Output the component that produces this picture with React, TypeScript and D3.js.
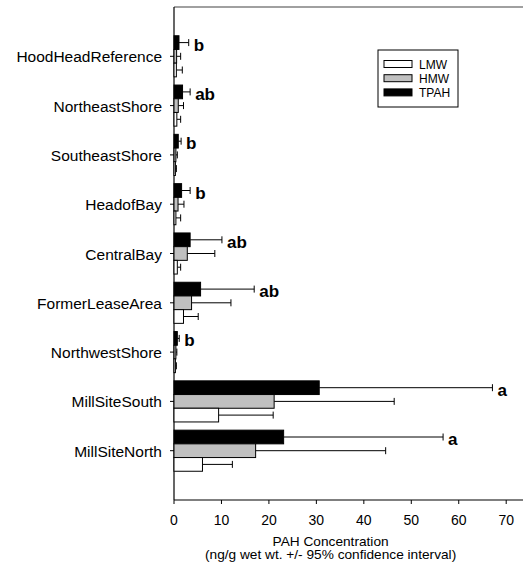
import React from "react";
import * as d3 from "d3";

const categories = [
  "HoodHeadReference",
  "NortheastShore",
  "SoutheastShore",
  "HeadofBay",
  "CentralBay",
  "FormerLeaseArea",
  "NorthwestShore",
  "MillSiteSouth",
  "MillSiteNorth",
];
const seriesNames = ["TPAH", "HMW", "LMW"];
const tpah = [1.05, 1.8, 0.9, 1.6, 3.4, 5.6, 0.7, 30.6, 23.1];
const tpahErr = [3.1, 3.4, 1.5, 3.4, 10.1, 16.9, 1.1, 67.1, 56.7];
const hmw = [0.55, 0.9, 0.4, 0.85, 2.8, 3.7, 0.4, 21.1, 17.2];
const hmwErr = [1.4, 2.0, 0.7, 2.1, 8.6, 12.0, 0.6, 46.4, 44.6];
const lmw = [0.5, 0.6, 0.3, 0.4, 0.7, 2.0, 0.3, 9.4, 6.0];
const lmwErr = [1.75, 1.4, 0.5, 1.4, 1.4, 5.1, 0.5, 20.9, 12.3];
const letters = ["b", "ab", "b", "b", "ab", "ab", "b", "a", "a"];
const xTicks = [0, 10, 20, 30, 40, 50, 60, 70];
const legendNames = ["LMW", "HMW", "TPAH"];

const fills: Record<string, string> = { TPAH: "#000000", HMW: "#c0c0c0", LMW: "#ffffff" };

export default function App() {
  const W = 523;
  const H = 569;
  const x0 = 174;
  const yTop = 7;
  const yBot = 500;
  const x = d3.scaleLinear().domain([0, 70]).range([x0, 506.2]);
  const y = d3.scaleLinear().domain([0, 10]).range([yTop, yBot]);
  const barH = 13.7;
  const font = "Arial, 'Liberation Sans', sans-serif";

  const values: Record<string, number[]> = { TPAH: tpah, HMW: hmw, LMW: lmw };
  const errs: Record<string, number[]> = { TPAH: tpahErr, HMW: hmwErr, LMW: lmwErr };

  return (
    <svg
      width={W}
      height={H}
      style={{ position: "absolute", left: 0, top: 0, background: "#fff" }}
      fontFamily={font}
    >
      {/* frame */}
      <line x1={x0} x2={W} y1={yTop} y2={yTop} stroke="#808080" strokeWidth={1.5} />
      <line x1={x0} x2={x0} y1={yTop} y2={yBot} stroke="#000" strokeWidth={1.2} />
      <line x1={x0} x2={W} y1={yBot} y2={yBot} stroke="#000" strokeWidth={1.2} />

      {/* x ticks */}
      {xTicks.map((t) => (
        <g key={t}>
          <line x1={x(t)} x2={x(t)} y1={yBot} y2={yBot + 4} stroke="#000" />
          <text x={x(t)} y={yBot + 25} textAnchor="middle" fontSize={14} fill="#000">
            {t}
          </text>
        </g>
      ))}
      <g transform={`translate(${x(33)},0) scale(1.14,1)`}>
        <text x={0} y={546} textAnchor="middle" fontSize={12} fill="#000">
          PAH Concentration
        </text>
        <text x={0} y={559} textAnchor="middle" fontSize={12} fill="#000">
          (ng/g wet wt. +/- 95% confidence interval)
        </text>
      </g>

      {categories.map((c, i) => {
        const cy = y(i + 1);
        return (
          <g key={c}>
            <line x1={x0 - 4} x2={x0} y1={cy} y2={cy} stroke="#000" />
            <text x={162} y={cy + 6} textAnchor="end" fontSize={15.5} fill="#000">
              {c}
            </text>
            {seriesNames.map((s, k) => {
              const top = cy - barH * 1.5 + k * barH;
              const v = values[s][i];
              const e = errs[s][i];
              const mid = top + barH / 2;
              return (
                <g key={s}>
                  <line x1={x(v)} x2={x(e)} y1={mid} y2={mid} stroke="#000" strokeWidth={1} />
                  <line x1={x(e)} x2={x(e)} y1={mid - 3.5} y2={mid + 3.5} stroke="#000" strokeWidth={1} />
                  <rect
                    x={x0}
                    y={top}
                    width={x(v) - x0}
                    height={barH}
                    fill={fills[s]}
                    stroke="#000"
                    strokeWidth={1}
                  />
                </g>
              );
            })}
            <text
              x={x(tpahErr[i]) + 5}
              y={cy - barH + 8}
              fontSize={17}
              fontWeight="bold"
              fill="#000"
            >
              {letters[i]}
            </text>
          </g>
        );
      })}

      {/* legend */}
      <rect x={378} y={50} width={80} height={57} fill="#fff" stroke="#000" strokeWidth={1} />
      {legendNames.map((n, k) => {
        const ly = 64 + k * 14.2;
        return (
          <g key={n}>
            <rect x={384} y={ly - 3.5} width={28} height={7} fill={fills[n]} stroke="#000" strokeWidth={1} />
            <text x={419} y={ly + 4.5} fontSize={12} fill="#000">
              {n}
            </text>
          </g>
        );
      })}
    </svg>
  );
}
